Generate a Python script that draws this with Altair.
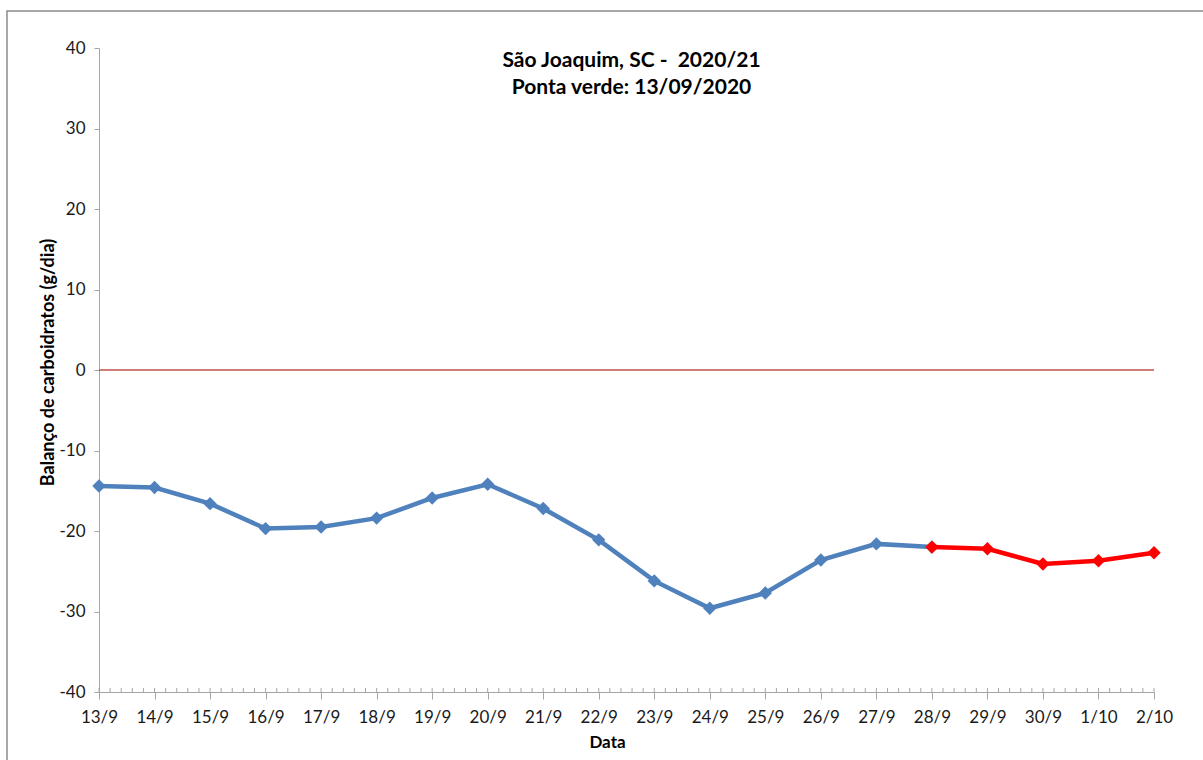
import json

import altair as alt
import pandas as pd

# Daily dates shown on the horizontal axis
dates = [
    "13/9", "14/9", "15/9", "16/9", "17/9", "18/9", "19/9", "20/9", "21/9",
    "22/9", "23/9", "24/9", "25/9", "26/9", "27/9", "28/9", "29/9", "30/9",
    "1/10", "2/10",
]

# Carbohydrate balance (g/day), observed from 13/9 to 28/9
observed = [
    -14.4, -14.6, -16.6, -19.7, -19.5, -18.4, -15.9, -14.2, -17.2, -21.1,
    -26.2, -29.6, -27.7, -23.6, -21.6, -22.0,
]

# Forecast carbohydrate balance (g/day), 28/9 to 2/10
forecast = [-22.0, -22.2, -24.1, -23.7, -22.7]
forecast_start = 15

y_ticks = [-40, -30, -20, -10, 0, 10, 20, 30, 40]

W, H = 1055, 644
FONT = "Lato"
AXIS_GRAY = "#A6A6A6"
BLUE = "#4F81BD"
RED = "#FF0000"

obs_df = pd.DataFrame({"day": list(range(len(observed))), "value": observed})
fc_df = pd.DataFrame({
    "day": list(range(forecast_start, forecast_start + len(forecast))),
    "value": forecast,
})
# four minor ticks between consecutive days, plus the day ticks themselves
minor_df = pd.DataFrame({
    "pos": [i + k / 5 for i in range(len(dates) - 1) for k in range(5)] + [len(dates) - 1]
})

x_enc = alt.X(
    "day:Q",
    scale=alt.Scale(domain=[0, len(dates) - 1], nice=False, zero=False),
    axis=alt.Axis(
        values=list(range(len(dates))),
        labelExpr=f"{json.dumps(dates)}[datum.value]",
        labelFlush=False,
        labelOverlap=False,
        title="Data",
        titleX=508,
        titleY=50,
        titleAlign="center",
        titleBaseline="middle",
        titleFontSize=17,
        tickSize=7,
        labelPadding=10,
        grid=False,
    ),
)
y_enc = alt.Y(
    "value:Q",
    scale=alt.Scale(domain=[-40, 40], nice=False),
    axis=alt.Axis(
        values=y_ticks,
        labelExpr="'' + datum.value",
        title="Balanço de carboidratos (g/dia)",
        titleX=-51,
        titleY=314,
        titleAngle=-90,
        titleAlign="center",
        titleBaseline="middle",
        titleFontSize=18,
        tickSize=5,
        labelPadding=9,
        grid=False,
    ),
)

# outer chart frame
frame = alt.Chart(pd.DataFrame({"k": [0]})).mark_rect(
    fillOpacity=0, stroke="#8C8C8C", strokeWidth=1.5, clip=False
).encode(
    x=alt.value(-92), x2=alt.value(W + 200),
    y=alt.value(-37), y2=alt.value(H + 200),
)

zero_line = alt.Chart(pd.DataFrame({"value": [0]})).mark_rule(
    color="#C0504D", strokeWidth=1.5
).encode(y="value:Q")

minor_ticks = alt.Chart(minor_df).mark_rule(
    color=AXIS_GRAY, strokeWidth=1
).encode(x="pos:Q", y=alt.value(H), y2=alt.value(H - 4))

obs_line = alt.Chart(obs_df).mark_line(
    color=BLUE, strokeWidth=4.5,
    point=alt.OverlayMarkDef(shape="diamond", size=180, color=BLUE, filled=True, opacity=1),
).encode(x=x_enc, y=y_enc)

fc_line = alt.Chart(fc_df).mark_line(
    color=RED, strokeWidth=4.5,
    point=alt.OverlayMarkDef(shape="diamond", size=180, color=RED, filled=True, opacity=1),
).encode(x="day:Q", y="value:Q")

chart = alt.layer(frame, zero_line, minor_ticks, obs_line, fc_line).properties(
    width=W,
    height=H,
    padding={"left": 99, "top": 48, "right": 49, "bottom": 68},
    autosize=alt.AutoSizeParams(type="none"),
    title=alt.TitleParams(
        text=["São Joaquim, SC -\u00a0 2020/21", "Ponta verde: 13/09/2020"],
        font=FONT,
        fontSize=21,
        fontWeight="bold",
        color="#000000",
        anchor="middle",
        frame="group",
        dx=5,
        offset=-88,
        lineHeight=27,
    ),
).configure_view(
    stroke=None
).configure_axis(
    domainColor=AXIS_GRAY,
    tickColor=AXIS_GRAY,
    domainWidth=1,
    tickWidth=1,
    labelFont=FONT,
    labelFontSize=17,
    labelColor="#1A1A1A",
    titleFont=FONT,
    titleFontWeight="bold",
    titleColor="#000000",
)

chart.save("out.html", embed_options={"renderer": "svg", "actions": False})
